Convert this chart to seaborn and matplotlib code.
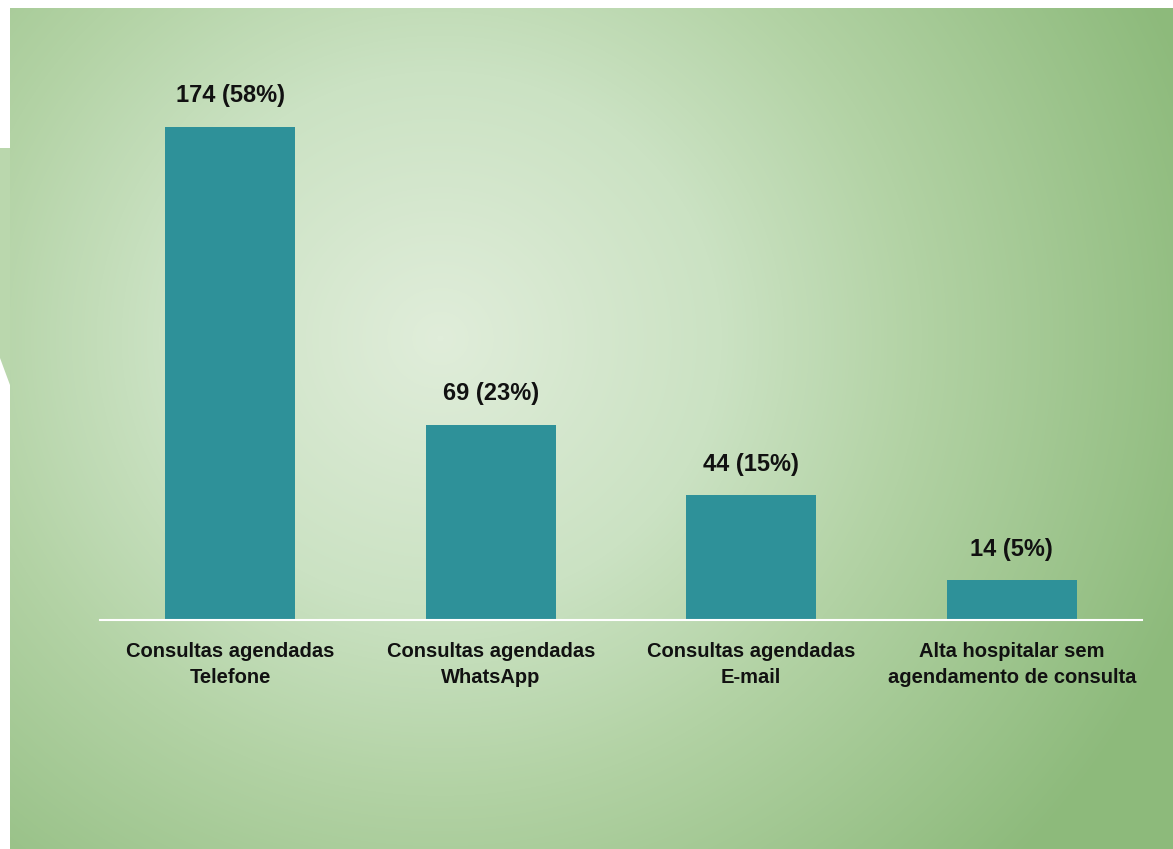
import numpy as np
import matplotlib
matplotlib.use("Agg")
import matplotlib.pyplot as plt
import seaborn as sns
from matplotlib.colors import LinearSegmentedColormap
from matplotlib.patches import Polygon

categories = ["Consultas agendadas\nTelefone",
              "Consultas agendadas\nWhatsApp",
              "Consultas agendadas\nE-mail",
              "Alta hospitalar sem\nagendamento de consulta"]
counts = [174, 69, 44, 14]
percents = [58, 23, 15, 5]

sns.set_theme(style="white")
plt.rcParams['font.family'] = ['Liberation Sans Narrow', 'Liberation Sans', 'DejaVu Sans']

W, H = 1173, 849
fig = plt.figure(figsize=(W / 100, H / 100), dpi=100)
fig.patch.set_facecolor("white")

# background panel with radial gradient
bg = fig.add_axes([10 / W, 0, (W - 10) / W, (H - 8) / H])
yy, xx = np.mgrid[0:841, 0:1163]
cx, cy = 430, 330
r = np.sqrt(((xx - cx) / 1000.0) ** 2 + ((yy - cy) / 950.0) ** 2)
r = np.clip(r, 0, 1)
cmap = LinearSegmentedColormap.from_list(
    "bg", [(0, "#e0edda"), (0.35, "#cbe2c3"), (0.6, "#b2d2a4"), (1, "#8dba7b")])
bg.imshow(r, cmap=cmap, aspect="auto", vmin=0, vmax=0.8)
bg.set_axis_off()

# small notch shape on left edge
notch = Polygon([[0, 1 - 148 / H], [10 / W, 1 - 148 / H], [10 / W, 1 - 385 / H],
                 [0, 1 - 358 / H]], closed=True, transform=fig.transFigure,
                facecolor="#bad7ad", edgecolor="none")
fig.patches.append(notch)

ax = fig.add_axes([100 / W, 229 / H, 1042 / W, 520 / H])
ax.patch.set_alpha(0)
sns.barplot(x=categories, y=counts, color="#2e9199", saturation=1, width=0.5,
            linewidth=0, ax=ax)
ax.set_xlim(-0.5, 3.5)
ax.set_ylim(0, 520 / 2.833)

for i, (c, p) in enumerate(zip(counts, percents)):
    ax.text(i, c + 7, f"{c} ({p}%)", ha="center", va="bottom",
            fontsize=17, fontweight="bold", color="#111111")

for s in ["top", "right", "left"]:
    ax.spines[s].set_visible(False)
ax.spines["bottom"].set_color("white")
ax.spines["bottom"].set_linewidth(1.5)
ax.set_yticks([])
ax.set_ylabel("")
ax.set_xlabel("")
ax.tick_params(axis="x", length=0, pad=16)
for lbl in ax.get_xticklabels():
    lbl.set_fontsize(14.5)
    lbl.set_fontweight("bold")
    lbl.set_color("#111111")
    lbl.set_linespacing(1.45)

fig.savefig("out.png", dpi=100)
